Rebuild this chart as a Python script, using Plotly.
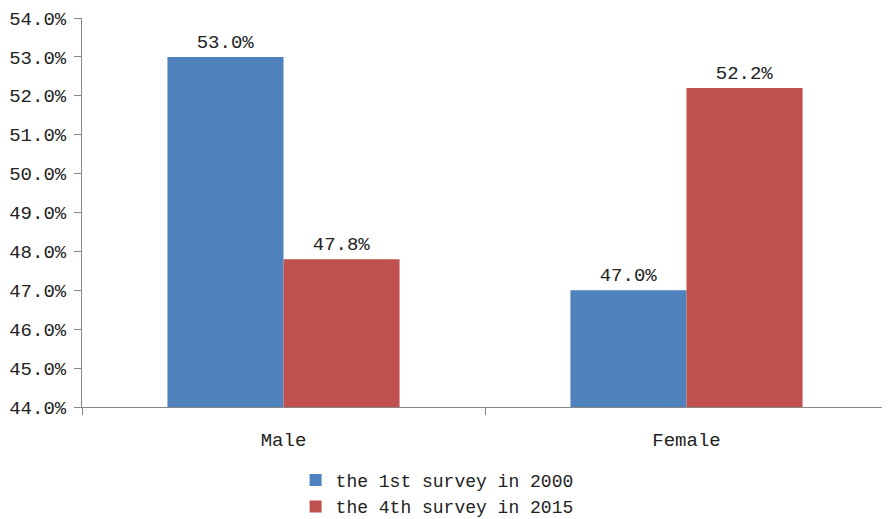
import plotly.graph_objects as go

categories = ["Male", "Female"]
survey_2000 = [53.0, 47.0]
survey_2015 = [47.8, 52.2]
series_names = ["the 1st survey in 2000", "the 4th survey in 2015"]
colors = ["#4F81BD", "#C0504D"]

FONT = "Liberation Mono, DejaVu Sans Mono, monospace"

fig = go.Figure()
for name, vals, col in zip(series_names, [survey_2000, survey_2015], colors):
    fig.add_trace(go.Bar(
        x=categories,
        y=vals,
        name=name,
        marker=dict(color=col, line=dict(width=0)),
        text=[f"{v:.1f}%" for v in vals],
        textposition="outside",
        textfont=dict(size=19, color="#222222", family=FONT),
        cliponaxis=False,
    ))

# page body adds an 8px offset, so margins are trimmed by that much
fig.update_layout(
    width=890,
    height=519,
    margin=dict(l=74, r=10, t=10, b=120, autoexpand=False),
    paper_bgcolor="white",
    plot_bgcolor="white",
    barmode="group",
    bargap=0.424,
    bargroupgap=0,
    font=dict(family=FONT, size=19, color="#222222"),
    showlegend=True,
    legend=dict(
        orientation="v",
        x=0.265,
        xanchor="left",
        y=-0.141,
        yanchor="top",
        font=dict(size=18, family=FONT),
        tracegroupgap=0,
        itemsizing="constant",
    ),
)

fig.update_yaxes(
    range=[44, 54],
    dtick=1,
    tickformat=".1f",
    ticksuffix="%",
    showgrid=False,
    showline=True,
    linecolor="#868686",
    linewidth=1,
    ticks="outside",
    ticklen=7,
    tickcolor="#868686",
    ticklabelstandoff=4,
    ticklabeloverflow="allow",
    zeroline=False,
    automargin=False,
)
fig.update_xaxes(
    showgrid=False,
    showline=True,
    linecolor="#868686",
    linewidth=1,
    ticks="outside",
    tickson="boundaries",
    ticklen=7,
    tickcolor="#868686",
    ticklabelstandoff=15,
    automargin=False,
)

fig.write_html("out.html")
